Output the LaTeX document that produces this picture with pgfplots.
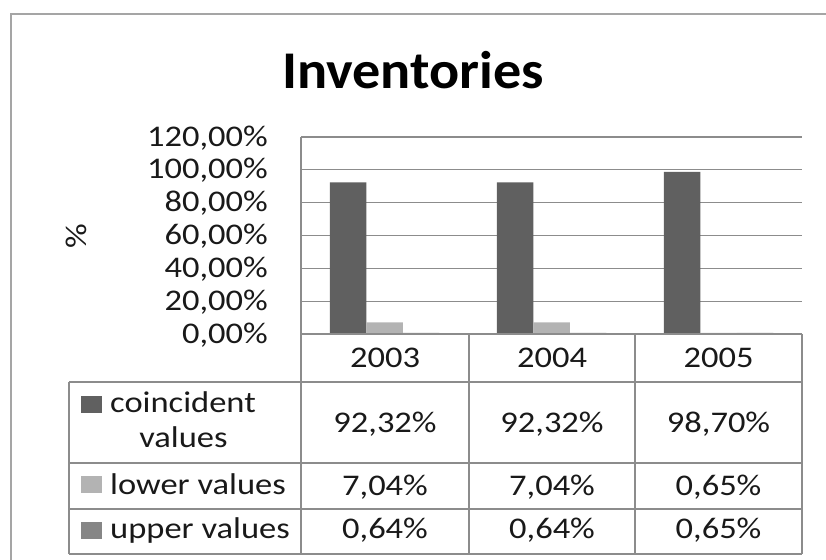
\documentclass[border=0pt]{standalone}
\usepackage{pgfplots}
\pgfplotsset{compat=1.18}
\usepackage{fontspec}
\setmainfont[FakeStretch=1.15]{Carlito}
\newfontfamily\titlefont[FakeStretch=1.06]{Carlito}
\definecolor{cCoin}{RGB}{96,96,96}
\definecolor{cLow}{RGB}{179,179,179}
\definecolor{cUp}{RGB}{134,134,134}
\definecolor{cGrid}{RGB}{140,140,140}
\definecolor{cFrame}{RGB}{165,165,165}
\definecolor{cText}{RGB}{25,25,25}
\newcommand{\tfont}{\fontsize{30bp}{35bp}\selectfont}
\begin{document}
\begin{tikzpicture}
\useasboundingbox (0,0) rectangle (826bp,-560bp);
% outer chart frame (right and bottom edges fall outside the picture)
\draw[cFrame, line width=1.5bp] (11bp,-560bp) -- (11bp,-14bp) -- (826bp,-14bp);
% title
\node[anchor=base, inner sep=0pt, text=black] at (413bp,-88bp)
  {\titlefont\fontsize{53bp}{60bp}\selectfont\bfseries Inventories};
% y label
\node[rotate=90, inner sep=0pt, text=cText, font=\tfont] at (76bp,-236bp) {\%};
\begin{axis}[
  scale only axis, width=501bp, height=197bp,
  at={(301bp,-334bp)}, anchor=south west,
  xmin=-0.5, xmax=2.5, ymin=0, ymax=120,
  xtick=\empty,
  ytick={0,20,40,60,80,100,120},
  yticklabels={{0,00\%},{20,00\%},{40,00\%},{60,00\%},{80,00\%},{100,00\%},{120,00\%}},
  yticklabel style={font=\tfont, text=cText, anchor=base east, inner sep=0pt, xshift=-33bp, yshift=-9bp},
  major tick length=0pt,
  ymajorgrids, grid style={cGrid, line width=1.2bp},
  axis line style={draw=none},
  ybar=0pt, bar width=36.5bp,
]
\addplot[fill=cCoin, draw=none] coordinates {(0,92.32) (1,92.32) (2,98.70)};
\addplot[fill=cLow, draw=none] coordinates {(0,7.04) (1,7.04) (2,0.65)};
\addplot[fill=cUp, draw=none] coordinates {(0,0.64) (1,0.64) (2,0.65)};
\end{axis}
% plot-area left edge
\draw[cGrid, line width=1.2bp] (301bp,-137bp) -- (301bp,-334bp);
% data table grid
\begin{scope}[cGrid, line width=1.2bp]
\draw (301bp,-334bp) -- (802bp,-334bp);
\draw (69bp,-382bp) -- (802bp,-382bp);
\draw (69bp,-463bp) -- (802bp,-463bp);
\draw (69bp,-509bp) -- (802bp,-509bp);
\draw (69bp,-554bp) -- (802bp,-554bp);
\draw (69bp,-382bp) -- (69bp,-554bp);
\draw (301bp,-334bp) -- (301bp,-554bp);
\draw (469bp,-334bp) -- (469bp,-554bp);
\draw (635bp,-334bp) -- (635bp,-554bp);
\draw (802bp,-334bp) -- (802bp,-554bp);
\end{scope}
\begin{scope}[every node/.style={font=\tfont, text=cText, inner sep=0pt}]
% header
\node[anchor=base] at (385bp,-367bp) {2003};
\node[anchor=base] at (552bp,-367bp) {2004};
\node[anchor=base] at (718.5bp,-367bp) {2005};
% legend keys and series names
\fill[cCoin] (81bp,-396bp) rectangle (102bp,-413bp);
\fill[cLow] (81bp,-476bp) rectangle (102bp,-493bp);
\fill[cUp] (81bp,-522bp) rectangle (102bp,-539bp);
\node[anchor=base west] at (110bp,-412bp) {coincident};
\node[anchor=base] at (183.5bp,-447bp) {values};
\node[anchor=base west] at (110bp,-494bp) {lower values};
\node[anchor=base west] at (110bp,-538bp) {upper values};
% values
\node[anchor=base] at (385bp,-432bp) {92,32\%};
\node[anchor=base] at (552bp,-432bp) {92,32\%};
\node[anchor=base] at (718.5bp,-432bp) {98,70\%};
\node[anchor=base] at (385bp,-495bp) {7,04\%};
\node[anchor=base] at (552bp,-495bp) {7,04\%};
\node[anchor=base] at (718.5bp,-495bp) {0,65\%};
\node[anchor=base] at (385bp,-538bp) {0,64\%};
\node[anchor=base] at (552bp,-538bp) {0,64\%};
\node[anchor=base] at (718.5bp,-538bp) {0,65\%};
\end{scope}
\end{tikzpicture}
\end{document}
